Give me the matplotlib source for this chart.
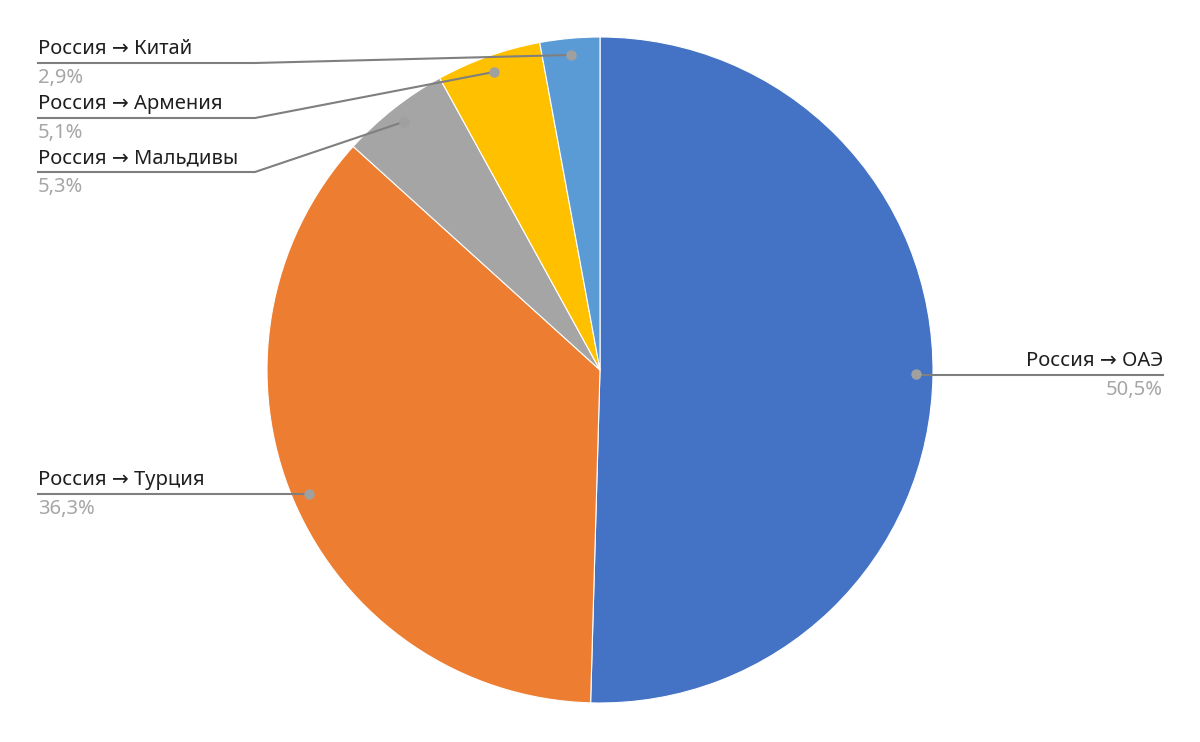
import numpy as np
import matplotlib.pyplot as plt

plt.rcParams['font.family'] = ['Noto Sans', 'DejaVu Sans']

routes = ["Россия → ОАЭ", "Россия → Турция", "Россия → Мальдивы",
          "Россия → Армения", "Россия → Китай"]
shares = [50.5, 36.3, 5.3, 5.1, 2.9]
share_labels = ["50,5%", "36,3%", "5,3%", "5,1%", "2,9%"]
colors = ["#4472C4", "#ED7D31", "#A5A5A5", "#FFC000", "#5B9BD5"]

W, H = 1200, 742
cx, cy, R = 600, H - 370, 333

fig = plt.figure(figsize=(12, 7.42), dpi=100)
ax = fig.add_axes([0, 0, 1, 1])

wedges, _ = ax.pie(shares, colors=colors, startangle=90, counterclock=False,
                   center=(cx, cy), radius=R, frame=True,
                   wedgeprops=dict(edgecolor="white", linewidth=0.8))
ax.set_xlim(0, W)
ax.set_ylim(0, H)
ax.set_aspect("equal")
ax.axis("off")

# label layout: (underline y in px, side, x of underline start, x of bend)
layout = {
    0: (375, "right", 1163, None),
    1: (494, "left", 38, None),
    2: (172, "left", 38, 255),
    3: (118, "left", 38, 255),
    4: (63, "left", 38, 255),
}

line_c = "#7F7F7F"
fs = 14.5
for i, w in enumerate(wedges):
    ang = np.deg2rad((w.theta1 + w.theta2) / 2)
    dx = cx + 0.95 * R * np.cos(ang)
    dy = cy + 0.95 * R * np.sin(ang)
    uy, side, x0, xb = layout[i]
    uy = H - uy
    if side == "right":
        ax.plot([dx, x0], [uy, uy], color=line_c, lw=1.5, zorder=3)
        ax.text(x0, uy + 4, routes[i], ha="right", va="bottom", fontsize=fs, color="#1F1F1F")
        ax.text(x0, uy - 5, share_labels[i], ha="right", va="top", fontsize=fs, color="#A6A6A6")
    else:
        if xb is None:
            ax.plot([x0, dx], [uy, uy], color=line_c, lw=1.5, zorder=3)
        else:
            ax.plot([x0, xb, dx], [uy, uy, dy], color=line_c, lw=1.5, zorder=3)
        ax.text(x0, uy + 4, routes[i], ha="left", va="bottom", fontsize=fs, color="#1F1F1F")
        ax.text(x0, uy - 5, share_labels[i], ha="left", va="top", fontsize=fs, color="#A6A6A6")
    ax.plot(dx, dy, "o", color="#A0A0A0", ms=6.5, zorder=4)

fig.savefig("out.png", dpi=100, facecolor="white")
